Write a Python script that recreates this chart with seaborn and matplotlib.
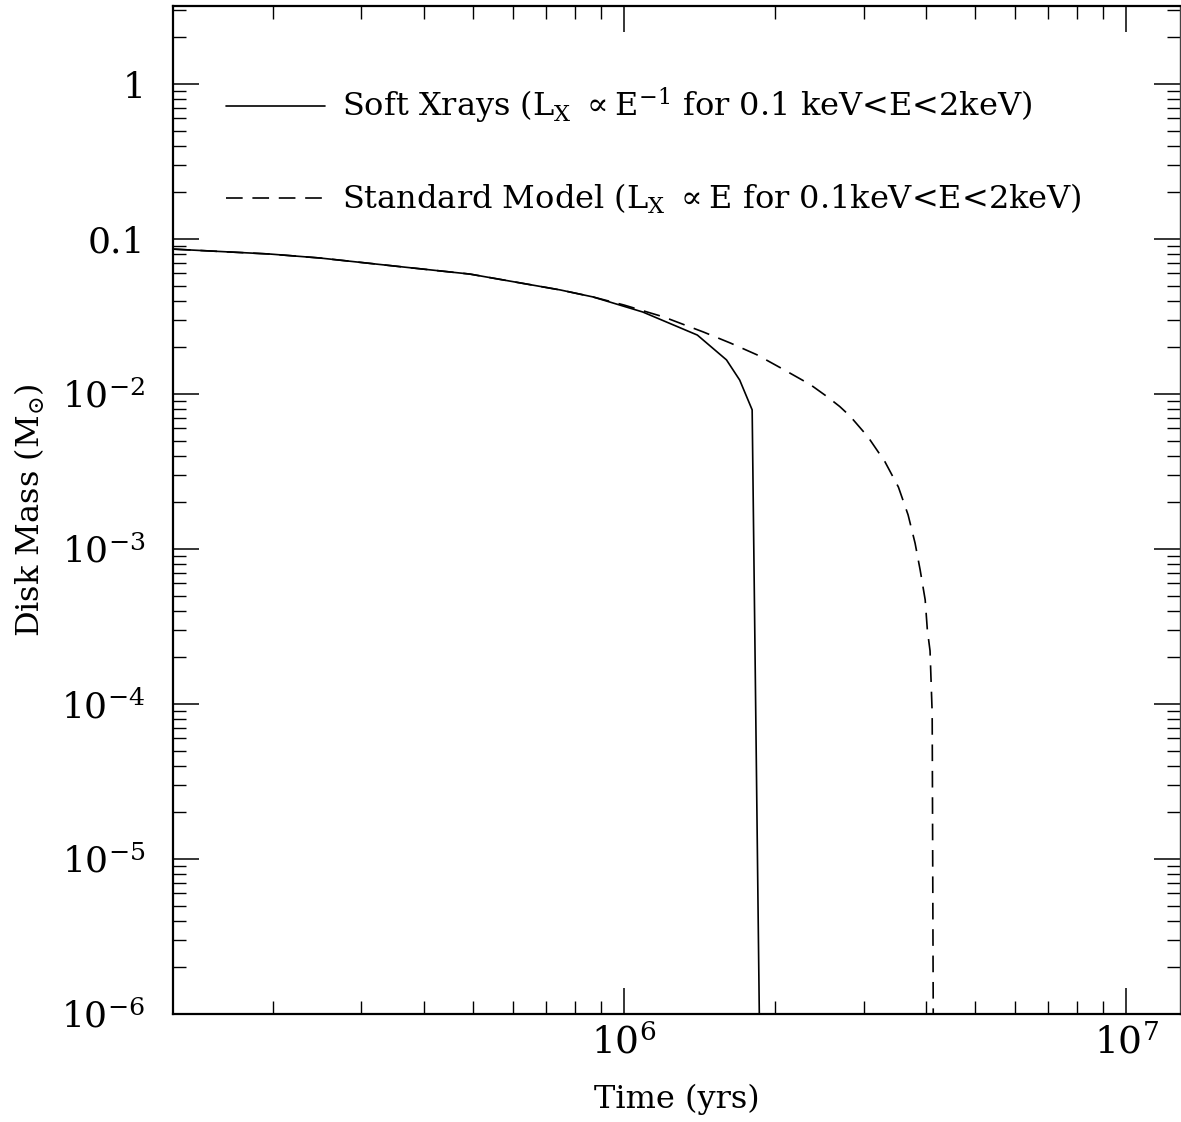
import numpy as np
import pandas as pd
import matplotlib
matplotlib.use("Agg")
import matplotlib.pyplot as plt
from matplotlib.ticker import LogLocator, FuncFormatter, NullFormatter
import seaborn as sns

# Disk mass evolution (solar masses) against time (years)
soft_time = [1.27e5, 1.97e5, 2.48e5, 3.63e5, 4.93e5, 7.47e5, 8.67e5, 1.09e6,
             1.40e6, 1.60e6, 1.70e6, 1.80e6, 1.86e6]
soft_mass = [0.086, 0.080, 0.0754, 0.066, 0.0594, 0.0469, 0.0423, 0.0338,
             0.0240, 0.0166, 0.0123, 0.0079, 1.0e-6]

std_time = [1.27e5, 1.97e5, 2.48e5, 3.63e5, 4.93e5, 7.47e5, 8.67e5, 1.00e6,
            1.20e6, 1.44e6, 1.63e6, 1.84e6, 2.07e6, 2.35e6, 2.54e6, 2.69e6,
            2.82e6, 3.06e6, 3.31e6, 3.52e6, 3.68e6, 3.80e6, 3.89e6, 3.98e6,
            4.02e6, 4.07e6, 4.11e6, 4.13e6]
std_mass = [0.086, 0.080, 0.0754, 0.066, 0.0594, 0.0469, 0.0423, 0.0375,
            0.0314, 0.0251, 0.0213, 0.0179, 0.0145, 0.0115, 0.0096, 0.0083,
            0.0072, 0.0053, 0.00365, 0.00251, 0.00166, 0.00109, 7.3e-4, 4.7e-4,
            3.0e-4, 2.2e-4, 8.7e-5, 1.0e-6]

soft_label = r"Soft Xrays (L$_{\rm X}$ $\propto$E$^{-1}$ for 0.1 keV<E<2keV)"
std_label = r"Standard Model (L$_{\rm X}$ $\propto$E for 0.1keV<E<2keV)"

y_tick_values = [1e-6, 1e-5, 1e-4, 1e-3, 1e-2, 0.1, 1]
y_tick_labels = [r"$10^{-6}$", r"$10^{-5}$", r"$10^{-4}$", r"$10^{-3}$",
                 r"$10^{-2}$", "0.1", "1"]

sns.set_theme(style="ticks")
plt.rcParams["font.family"] = ["DejaVu Serif"]
plt.rcParams["mathtext.fontset"] = "dejavuserif"
plt.rcParams["lines.scale_dashes"] = False
plt.rcParams["text.color"] = "black"
plt.rcParams["axes.labelcolor"] = "black"
plt.rcParams["xtick.color"] = "black"
plt.rcParams["ytick.color"] = "black"

fig = plt.figure(figsize=(11.81, 11.22), dpi=100)
ax = fig.add_axes([0.1465, 0.0963, 0.8527, 0.8986])

soft_df = pd.DataFrame({"time": soft_time, "mass": soft_mass})
std_df = pd.DataFrame({"time": std_time, "mass": std_mass})

sns.lineplot(data=soft_df, x="time", y="mass", ax=ax, sort=False,
             estimator=None, color="black", linewidth=1.2, label=soft_label)
sns.lineplot(data=std_df, x="time", y="mass", ax=ax, sort=False,
             estimator=None, color="black", linewidth=1.2, label=std_label)
ax.lines[1].set_dashes([12, 7])

ax.set_xscale("log")
ax.set_yscale("log")
ax.set_xlim(1.264e5, 1.281e7)
ax.set_ylim(1e-6, 3.2)

ax.set_yticks(y_tick_values)
ax.set_yticklabels(y_tick_labels)
ax.yaxis.set_minor_locator(LogLocator(base=10, subs=np.arange(2, 10), numticks=20))
ax.yaxis.set_minor_formatter(NullFormatter())
ax.xaxis.set_major_locator(LogLocator(base=10, numticks=10))
ax.xaxis.set_major_formatter(FuncFormatter(lambda v, p: r"$10^{%d}$" % round(np.log10(v))))
ax.xaxis.set_minor_locator(LogLocator(base=10, subs=np.arange(2, 10), numticks=20))
ax.xaxis.set_minor_formatter(NullFormatter())

ax.tick_params(which="both", direction="in", top=True, right=True)
ax.tick_params(which="major", length=19, width=1.1)
ax.tick_params(which="minor", length=9.5, width=1.0)
ax.tick_params(axis="y", which="major", labelsize=26, pad=20)
ax.tick_params(axis="x", which="major", labelsize=27, pad=8)

for side in ["left", "bottom", "top"]:
    ax.spines[side].set_linewidth(1.6)
    ax.spines[side].set_color("black")
ax.spines["right"].set_linewidth(1.0)
ax.spines["right"].set_color("#444444")

ax.set_xlabel("Time (yrs)", fontsize=23, labelpad=16)
ax.set_ylabel(r"Disk Mass (M$_{\odot}$)", fontsize=23, labelpad=10)

leg = ax.legend(loc="upper left", bbox_to_anchor=(0.04, 0.933), frameon=False,
                fontsize=23, handlelength=3.1, handletextpad=0.53,
                labelspacing=1.74, borderaxespad=0)

fig.savefig("out.png", dpi=100)
